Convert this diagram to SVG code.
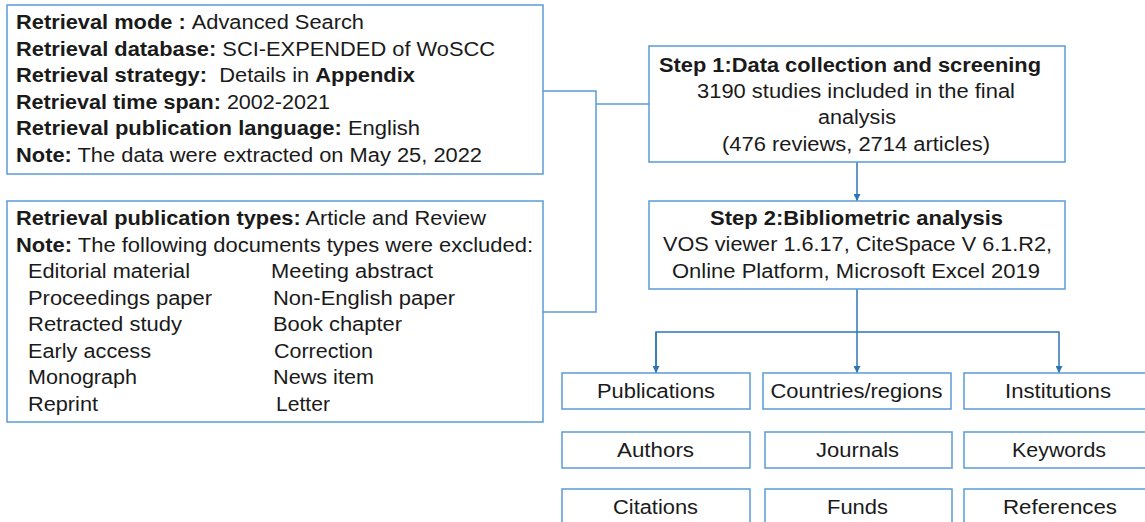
<svg xmlns="http://www.w3.org/2000/svg" width="1145" height="522" viewBox="0 0 1145 522">
<defs>
<style>
.box{fill:#ffffff;stroke:#5B9BD5;stroke-width:1.5}
.t{font-family:"Liberation Sans",Arial,sans-serif;font-size:20px;fill:#1a1a1a}
.b{font-weight:bold}
.c{text-anchor:middle}
.ln{fill:none;stroke:#5B9BD5;stroke-width:1.5}
.ar{fill:none;stroke:#2E75B6;stroke-width:1.5}
</style>
<marker id="ah" viewBox="0 0 10 10" refX="10" refY="5" markerWidth="7" markerHeight="7" markerUnits="userSpaceOnUse" orient="auto">
<path d="M0,0 L10,5 L0,10 z" fill="#2E75B6"/>
</marker>
</defs>
<rect width="1145" height="522" fill="#ffffff"/>

<g id="connectors">
<polyline class="ln" points="543,91 596,91 596,312 543,312"/>
<line class="ln" x1="596" y1="104" x2="649" y2="104"/>
<line class="ar" x1="857" y1="162" x2="857" y2="201" marker-end="url(#ah)"/>
<line class="ar" x1="857" y1="289" x2="857" y2="373" marker-end="url(#ah)"/>
<polyline class="ar" points="656,373 656,332 1059,332 1059,373" marker-end="url(#ah)"/>
<line class="ar" x1="656" y1="332" x2="656" y2="373" marker-end="url(#ah)"/>
</g>

<g id="criteria">
<rect class="box" x="7" y="5" width="536" height="169"/>
<text class="t" x="16" y="29" textLength="348" lengthAdjust="spacingAndGlyphs"><tspan class="b">Retrieval mode : </tspan>Advanced Search</text>
<text class="t" x="16" y="55.5" textLength="479" lengthAdjust="spacingAndGlyphs"><tspan class="b">Retrieval database:</tspan> SCI-EXPENDED of WoSCC</text>
<text class="t" x="16" y="82" textLength="399" lengthAdjust="spacingAndGlyphs"><tspan class="b">Retrieval strategy:</tspan>&#160; Details in <tspan class="b">Appendix</tspan></text>
<text class="t" x="16" y="108.5" textLength="314" lengthAdjust="spacingAndGlyphs"><tspan class="b">Retrieval time span:</tspan> 2002-2021</text>
<text class="t" x="16" y="135" textLength="404" lengthAdjust="spacingAndGlyphs"><tspan class="b">Retrieval publication language:</tspan> English</text>
<text class="t" x="16" y="161.5" textLength="466" lengthAdjust="spacingAndGlyphs"><tspan class="b">Note:</tspan> The data were extracted on May 25, 2022</text>
</g>

<g id="types">
<rect class="box" x="7" y="201" width="536" height="221"/>
<text class="t" x="16" y="225" textLength="470" lengthAdjust="spacingAndGlyphs"><tspan class="b">Retrieval publication types:</tspan> Article and Review</text>
<text class="t" x="16" y="251.5" textLength="517" lengthAdjust="spacingAndGlyphs"><tspan class="b">Note:</tspan> The following documents types were excluded:</text>
<text class="t" x="28" y="278" textLength="162" lengthAdjust="spacingAndGlyphs">Editorial material</text>
<text class="t" x="28" y="304.5" textLength="184" lengthAdjust="spacingAndGlyphs">Proceedings paper</text>
<text class="t" x="28" y="331" textLength="154" lengthAdjust="spacingAndGlyphs">Retracted study</text>
<text class="t" x="28" y="357.5" textLength="123" lengthAdjust="spacingAndGlyphs">Early access</text>
<text class="t" x="28" y="384" textLength="109" lengthAdjust="spacingAndGlyphs">Monograph</text>
<text class="t" x="28" y="410.5" textLength="70" lengthAdjust="spacingAndGlyphs">Reprint</text>
<text class="t" x="271" y="278" textLength="162" lengthAdjust="spacingAndGlyphs">Meeting abstract</text>
<text class="t" x="273" y="304.5" textLength="182" lengthAdjust="spacingAndGlyphs">Non-English paper</text>
<text class="t" x="273" y="331" textLength="129" lengthAdjust="spacingAndGlyphs">Book chapter</text>
<text class="t" x="274" y="357.5" textLength="99" lengthAdjust="spacingAndGlyphs">Correction</text>
<text class="t" x="273" y="384" textLength="101" lengthAdjust="spacingAndGlyphs">News item</text>
<text class="t" x="276" y="410.5" textLength="54" lengthAdjust="spacingAndGlyphs">Letter</text>
</g>

<g id="step1">
<rect class="box" x="649" y="46" width="416" height="116"/>
<text class="t b c" x="850" y="71.5" textLength="382" lengthAdjust="spacingAndGlyphs">Step 1:Data collection and screening</text>
<text class="t c" x="856" y="98" textLength="318" lengthAdjust="spacingAndGlyphs">3190 studies included in the final</text>
<text class="t c" x="857" y="124" textLength="78" lengthAdjust="spacingAndGlyphs">analysis</text>
<text class="t c" x="856" y="150.5" textLength="268" lengthAdjust="spacingAndGlyphs">(476 reviews, 2714 articles)</text>
</g>

<g id="step2">
<rect class="box" x="649" y="201" width="416" height="88"/>
<text class="t b c" x="856.5" y="225" textLength="293" lengthAdjust="spacingAndGlyphs">Step 2:Bibliometric analysis</text>
<text class="t c" x="857.5" y="251" textLength="389" lengthAdjust="spacingAndGlyphs">VOS viewer 1.6.17, CiteSpace V 6.1.R2,</text>
<text class="t c" x="856" y="277.5" textLength="368" lengthAdjust="spacingAndGlyphs">Online Platform, Microsoft Excel 2019</text>
</g>

<g id="publications"><rect class="box" x="562" y="373" width="188" height="36"/><text class="t c" x="656" y="398" textLength="118" lengthAdjust="spacingAndGlyphs">Publications</text></g>
<g id="countries"><rect class="box" x="763" y="373" width="188" height="36"/><text class="t c" x="856.5" y="398" textLength="172" lengthAdjust="spacingAndGlyphs">Countries/regions</text></g>
<g id="institutions"><rect class="box" x="964" y="373" width="190" height="36"/><text class="t c" x="1058" y="398" textLength="106" lengthAdjust="spacingAndGlyphs">Institutions</text></g>

<g id="authors"><rect class="box" x="562" y="432" width="188" height="36"/><text class="t c" x="655.5" y="457" textLength="77" lengthAdjust="spacingAndGlyphs">Authors</text></g>
<g id="journals"><rect class="box" x="765" y="432" width="187" height="36"/><text class="t c" x="857.5" y="457" textLength="83" lengthAdjust="spacingAndGlyphs">Journals</text></g>
<g id="keywords"><rect class="box" x="964" y="432" width="190" height="36"/><text class="t c" x="1059" y="457" textLength="94" lengthAdjust="spacingAndGlyphs">Keywords</text></g>

<g id="citations"><rect class="box" x="562" y="489" width="188" height="40"/><text class="t c" x="655.5" y="514" textLength="85" lengthAdjust="spacingAndGlyphs">Citations</text></g>
<g id="funds"><rect class="box" x="765" y="489" width="187" height="40"/><text class="t c" x="857.5" y="514" textLength="61" lengthAdjust="spacingAndGlyphs">Funds</text></g>
<g id="references"><rect class="box" x="964" y="489" width="190" height="40"/><text class="t c" x="1060" y="514" textLength="114" lengthAdjust="spacingAndGlyphs">References</text></g>
</svg>
